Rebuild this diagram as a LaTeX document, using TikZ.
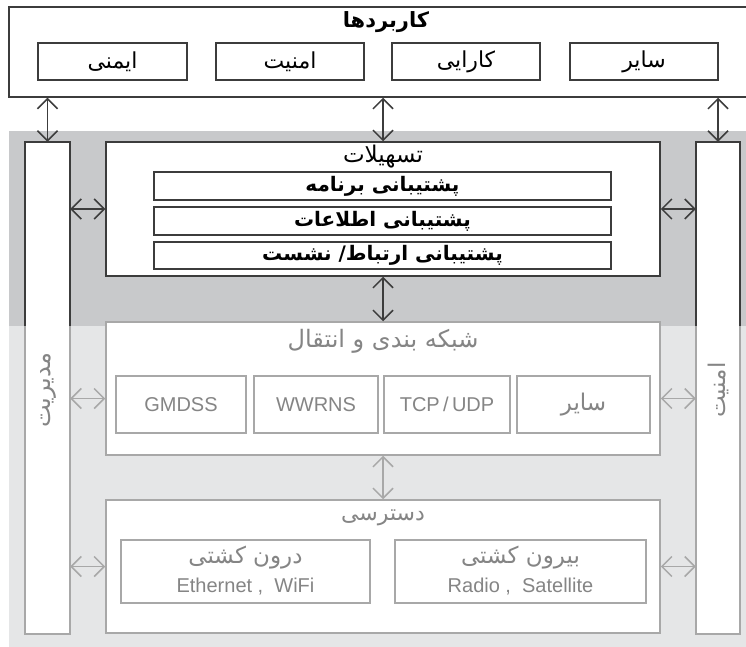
\documentclass[tikz,border=0pt]{standalone}
\usepackage{fontspec}
\setmainfont{Liberation Sans}
\newfontfamily\fa[Script=Arabic]{DejaVu Sans}
\TeXXeTstate=1
\usetikzlibrary{arrows.meta}
\definecolor{bgdark}{HTML}{C8C9CB}
\definecolor{bglight}{HTML}{E5E6E7}
\definecolor{edgedark}{HTML}{3C3C3C}
\definecolor{edgelight}{HTML}{A8A8A8}
\definecolor{txtlight}{HTML}{858585}
\newcommand{\fat}[1]{{\fa\beginR #1\endR}}
\begin{document}
\begin{tikzpicture}[x=1pt,y=-1pt,
  box/.style={draw=edgedark, line width=1.5pt, fill=white, inner sep=0pt},
  lbox/.style={draw=edgelight, line width=1.5pt, fill=white, inner sep=0pt},
  ttl/.style={inner sep=0pt, font=\fontsize{23}{26}\selectfont},
  ltxt/.style={inner sep=0pt, text=txtlight, font=\fontsize{23}{26}\selectfont},
  etxt/.style={inner sep=0pt, text=txtlight, font=\fontsize{20}{23}\selectfont},
  atxt/.style={font=\fontsize{22}{25}\selectfont},
  ftxt/.style={font=\fontsize{20}{23}\selectfont\bfseries},
  arr/.style={line width=1.5pt, draw=edgedark, {Straight Barb[length=10pt,width=20pt]}-{Straight Barb[length=10pt,width=20pt]}},
  larr/.style={arr, draw=edgelight}
]
\useasboundingbox (0,0) rectangle (746,647);
\clip (0,0) rectangle (746,647);
% backgrounds
\fill[bgdark] (9,131) rectangle (746,326);
\fill[bglight] (9,326) rectangle (746,647);

% applications
\node[box, minimum width=751pt, minimum height=90pt] (app) at (384.5,52) {};
\node[inner sep=0pt, font=\fontsize{21}{24}\selectfont\bfseries] (appt) at (386,22) {\fat{کاربردها}};
\node[box, atxt, minimum width=149pt, minimum height=37pt] (a1) at (112.5,61.5) {\fat{ایمنی}};
\node[box, atxt, minimum width=148pt, minimum height=37pt] (a2) at (290,61.5) {\fat{امنیت}};
\node[box, atxt, minimum width=148pt, minimum height=37pt] (a3) at (466,61.5) {\fat{کارایی}};
\node[box, atxt, minimum width=148pt, minimum height=37pt] (a4) at (644,61.5) {\fat{سایر}};

% side columns
\node[draw=none, fill=white, minimum width=45pt, minimum height=492pt, inner sep=0pt] (mgmt) at (47.5,388) {};
\node[draw=none, fill=white, minimum width=44pt, minimum height=492pt, inner sep=0pt] (sec) at (718,388) {};
\begin{scope}
  \clip (0,0) rectangle (746,326);
  \draw[edgedark, line width=1.5pt] (mgmt.north west) rectangle (mgmt.south east);
  \draw[edgedark, line width=1.5pt] (sec.north west) rectangle (sec.south east);
\end{scope}
\begin{scope}
  \clip (0,326) rectangle (746,647);
  \draw[edgelight, line width=1.5pt] (mgmt.north west) rectangle (mgmt.south east);
  \draw[edgelight, line width=1.5pt] (sec.north west) rectangle (sec.south east);
\end{scope}
\node[ltxt, rotate=90, font=\fontsize{24}{27}\selectfont] (mgmtt) at (48,390) {\fat{مدیریت}};
\node[ltxt, rotate=90] (sect) at (718,390) {\fat{امنیت}};

% facilities
\node[box, minimum width=554pt, minimum height=134pt] (fac) at (383,209) {};
\node[ttl] (fact) at (383,157) {\fat{تسهیلات}};
\node[box, ftxt, minimum width=457pt, minimum height=28pt] (f1) at (382.5,186) {\fat{پشتیبانی برنامه}};
\node[box, ftxt, minimum width=457pt, minimum height=28pt] (f2) at (382.5,221) {\fat{پشتیبانی اطلاعات}};
\node[box, ftxt, minimum width=457pt, minimum height=27pt] (f3) at (382.5,255.5) {\fat{پشتیبانی ارتباط/ نشست}};

% networking
\node[lbox, minimum width=554pt, minimum height=133pt] (net) at (383,388.5) {};
\node[ltxt, font=\fontsize{24}{27}\selectfont] (nett) at (383,341) {\fat{شبکه بندی و انتقال}};
\node[lbox, etxt, minimum width=130pt, minimum height=57pt] (n1) at (181,404.5) {GMDSS};
\node[lbox, etxt, minimum width=124pt, minimum height=57pt] (n2) at (316,404.5) {WWRNS};
\node[lbox, etxt, minimum width=126pt, minimum height=57pt] (n3) at (447,404.5) {TCP\,/\,UDP};
\node[lbox, ltxt, minimum width=133pt, minimum height=57pt] (n4) at (583.5,404.5) {\fat{سایر}};

% access
\node[lbox, minimum width=554pt, minimum height=133pt] (acc) at (383,566.5) {};
\node[ltxt, font=\fontsize{22}{25}\selectfont] (acct) at (383,518) {\fat{دسترسی}};
\node[lbox, minimum width=249pt, minimum height=63pt] (c1) at (245.5,571.5) {};
\node[lbox, minimum width=251pt, minimum height=63pt] (c2) at (520.5,571.5) {};
\node[ltxt] (c1a) at (245.5,558) {\fat{درون کشتی}};
\node[etxt] (c1b) at (245.5,587) {Ethernet ,\ \ WiFi};
\node[ltxt] (c2a) at (520.5,558) {\fat{بیرون کشتی}};
\node[etxt] (c2b) at (520.5,587) {Radio ,\ \ Satellite};

% connectors
\draw[arr] (app.south -| mgmt.north) -- (mgmt.north);
\draw[arr] (app.south -| fac.north) -- (fac.north);
\draw[arr] (app.south -| sec.north) -- (sec.north);
\draw[arr] (mgmt.east |- fac.west) -- (fac.west);
\draw[arr] (fac.east) -- (sec.west |- fac.east);
\draw[arr] (fac.south) -- (net.north);
\draw[larr] (net.south) -- (acc.north);
\draw[larr] ([yshift=-10pt]mgmt.east |- net.west) -- ([yshift=-10pt]net.west);
\draw[larr] ([yshift=-10pt]net.east) -- ([yshift=-10pt]sec.west |- net.east);
\draw[larr] (mgmt.east |- acc.west) -- (acc.west);
\draw[larr] (acc.east) -- (sec.west |- acc.east);
\end{tikzpicture}
\end{document}
